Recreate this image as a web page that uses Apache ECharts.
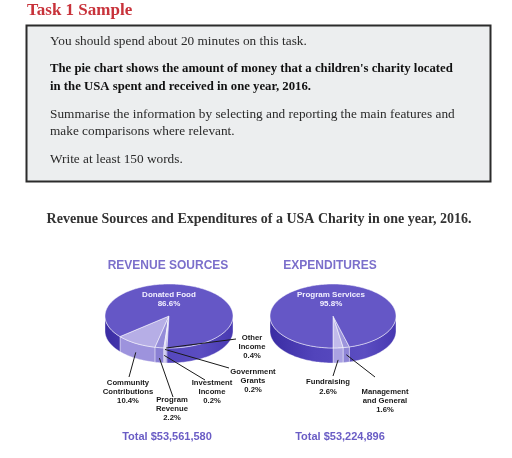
<!DOCTYPE html>
<html><head><meta charset="utf-8">
<script src="https://cdn.jsdelivr.net/npm/echarts@6/dist/echarts.min.js"></script>
<style>html,body{margin:0;padding:0;background:#fff}#c{width:512px;height:458px}</style>
</head><body><div id="c"></div><script>
// ---- data ----
const revenueCategories = ['Community\nContributions', 'Program\nRevenue', 'Investment\nIncome', 'Government\nGrants', 'Other\nIncome', 'Donated Food'];
const revenueValues = [10.4, 2.2, 0.2, 0.2, 0.4, 86.6];
const expenditureCategories = ['Fundraising', 'Management\nand General', 'Program Services'];
const expenditureValues = [2.6, 1.6, 95.8];
const pieTitles = ['REVENUE SOURCES', 'EXPENDITURES'];
const pieTotals = ['Total $53,561,580', 'Total $53,224,896'];
const headerTitle = 'Task 1 Sample';
const taskLines = [
  'You should spend about 20 minutes on this task.',
  'The pie chart shows the amount of money that a children\'s charity located',
  'in the USA spent and received in one year, 2016.',
  'Summarise the information by selecting and reporting the main features and',
  'make comparisons where relevant.',
  'Write at least 150 words.'
];
const chartTitle = 'Revenue Sources and Expenditures of a USA Charity in one year, 2016.';

// ---- layout / style ----
const SANS = '"Liberation Sans", Arial, sans-serif';
const SERIF = '"Liberation Serif", "Times New Roman", serif';
const revenueLayout = {
  cx: 169, cy: 316, rx: 64, ry: 32, depth: 15, start: 140,
  top: ['#b6aee6', '#958cd9', '#a59de0', '#a59de0', '#a59de0', '#6557c6'],
  side: ['#9d93dd', '#8a80d4', '#948bd8', '#948bd8', '#948bd8', null],
  labels: [
    { x: 128, y: 392, ex: 129, ey: 377, k: 0.6 },
    { x: 172, y: 409, ex: 173, ey: 397, k: 0.7 },
    { x: 212, y: 392, ex: 205, ey: 380, k: 0.5 },
    { x: 253, y: 381, ex: 229, ey: 368, k: 0.1 },
    { x: 252, y: 347, ex: 236, ey: 339, k: 0 },
    { x: 169, y: 299, inside: true }
  ]
};
const expenditureLayout = {
  cx: 333, cy: 316, rx: 63, ry: 32, depth: 15, start: 90,
  top: ['#c2bbeb', '#9c94dc', '#6557c6'],
  side: ['#aaa2e2', '#8e85d6', null],
  labels: [
    { x: 328, y: 387, ex: 333, ey: 376, k: 0.8 },
    { x: 385, y: 401, ex: 375, ey: 377, k: 0.5 },
    { x: 331, y: 299, inside: true }
  ]
};

function makePieSeries(name, values, cats, L) {
  const total = values.reduce((a, b) => a + b, 0);
  const cum = []; let c = 0;
  values.forEach(v => { cum.push(c); c += v; });
  const rad = d => d * Math.PI / 180;
  const P = (d, dz) => [L.cx + L.rx * Math.cos(rad(d)), L.cy + L.ry * Math.sin(rad(d)) + (dz || 0)];
  const arc = (from, to, dz) => {
    const n = Math.max(2, Math.ceil(Math.abs(to - from) / 1.5));
    const out = [];
    for (let k = 0; k <= n; k++) out.push(P(from + (to - from) * k / n, dz));
    return out;
  };
  const darkSide = new echarts.graphic.LinearGradient(L.cx - L.rx, 0, L.cx + L.rx, 0, [
    { offset: 0, color: '#3a2ca3' }, { offset: 0.35, color: '#5244bb' },
    { offset: 0.75, color: '#5b4dc1' }, { offset: 1, color: '#4738b1' }
  ], true);
  return {
    name: name, type: 'custom', coordinateSystem: 'none',
    data: values.map((v, i) => ({ value: v, name: cats[i] })),
    renderItem: function (params, api) {
      const i = params.dataIndex;
      const v = api.value(0);
      const a0 = L.start - cum[i] / total * 360;
      const a1 = a0 - v / total * 360;
      const children = [];
      for (let k = -1; k <= 1; k++) {
        const lo = Math.max(a1, 360 * k), hi = Math.min(a0, 180 + 360 * k);
        if (hi > lo) {
          const pts = arc(lo, hi, 0).concat(arc(hi, lo, L.depth));
          children.push({ type: 'polygon', z2: 1, shape: { points: pts },
            style: { fill: L.side[i] || darkSide, stroke: 'rgba(255,255,255,0.55)', lineWidth: 0.7 } });
        }
      }
      const top = [[L.cx, L.cy]].concat(arc(a0, a1, 0));
      children.push({ type: 'polygon', z2: 2, shape: { points: top },
        style: { fill: L.top[i], stroke: 'rgba(255,255,255,0.65)', lineWidth: 0.8 } });
      const lab = L.labels[i];
      const txt = cats[i] + '\n' + v.toFixed(1) + '%';
      if (lab.inside) {
        children.push({ type: 'text', z2: 20, x: lab.x, y: lab.y,
          style: { text: txt, fill: '#f2f0ff', font: 'bold 8px ' + SANS, lineHeight: 9,
            align: 'center', verticalAlign: 'middle', textAlign: 'center', textVerticalAlign: 'middle' } });
      } else {
        const m = (a0 + a1) / 2;
        const s = P(m, L.depth * lab.k);
        children.push({ type: 'line', z2: 20, shape: { x1: s[0], y1: s[1], x2: lab.ex, y2: lab.ey },
          style: { stroke: '#1a1a1a', lineWidth: 1 } });
        children.push({ type: 'text', z2: 20, x: lab.x, y: lab.y,
          style: { text: txt, fill: '#1a1a1a', font: 'bold 7.7px ' + SANS, lineHeight: 9.3,
            align: 'center', verticalAlign: 'middle', textAlign: 'center', textVerticalAlign: 'middle' } });
      }
      return { type: 'group', children: children };
    }
  };
}

const chart = echarts.init(document.getElementById('c'), null, { renderer: 'canvas' });
const taskY = [42, 69, 87, 115, 132, 160];
const taskBold = [false, true, true, false, false, false];
const graphics = [
  { type: 'text', left: 27, top: 2, style: { text: headerTitle, font: 'bold 17px ' + SERIF, fill: '#c8323a' } },
  { type: 'rect', shape: { x: 26.5, y: 25.5, width: 464, height: 156 },
    style: { fill: '#eceeef', stroke: '#2b2b2b', lineWidth: 2 } },
  { type: 'text', x: 259, y: 219, style: { text: chartTitle, font: 'bold 14px ' + SERIF, fill: '#333',
    align: 'center', verticalAlign: 'middle', textAlign: 'center', textVerticalAlign: 'middle' } },
  { type: 'text', x: 168, y: 266, style: { text: pieTitles[0], font: 'bold 12px ' + SANS, fill: '#7b6fcb',
    align: 'center', verticalAlign: 'middle', textAlign: 'center', textVerticalAlign: 'middle' } },
  { type: 'text', x: 330, y: 266, style: { text: pieTitles[1], font: 'bold 12px ' + SANS, fill: '#7b6fcb',
    align: 'center', verticalAlign: 'middle', textAlign: 'center', textVerticalAlign: 'middle' } },
  { type: 'text', x: 167, y: 437, style: { text: pieTotals[0], font: 'bold 11px ' + SANS, fill: '#6a5dc5',
    align: 'center', verticalAlign: 'middle', textAlign: 'center', textVerticalAlign: 'middle' } },
  { type: 'text', x: 340, y: 437, style: { text: pieTotals[1], font: 'bold 11px ' + SANS, fill: '#6a5dc5',
    align: 'center', verticalAlign: 'middle', textAlign: 'center', textVerticalAlign: 'middle' } }
];
taskLines.forEach((t, i) => {
  graphics.push({ type: 'text', x: 50, y: taskY[i], z: 10, style: { text: t,
    font: (taskBold[i] ? 'bold 12.75px ' : '13.3px ') + SERIF, fill: taskBold[i] ? '#111' : '#2a2a2a',
    align: 'left', verticalAlign: 'middle', textAlign: 'left', textVerticalAlign: 'middle' } });
});

chart.setOption({
  animation: false,
  backgroundColor: '#fff',
  graphic: graphics,
  series: [
    makePieSeries('Revenue Sources', revenueValues, revenueCategories, revenueLayout),
    makePieSeries('Expenditures', expenditureValues, expenditureCategories, expenditureLayout)
  ]
});
</script></body></html>
